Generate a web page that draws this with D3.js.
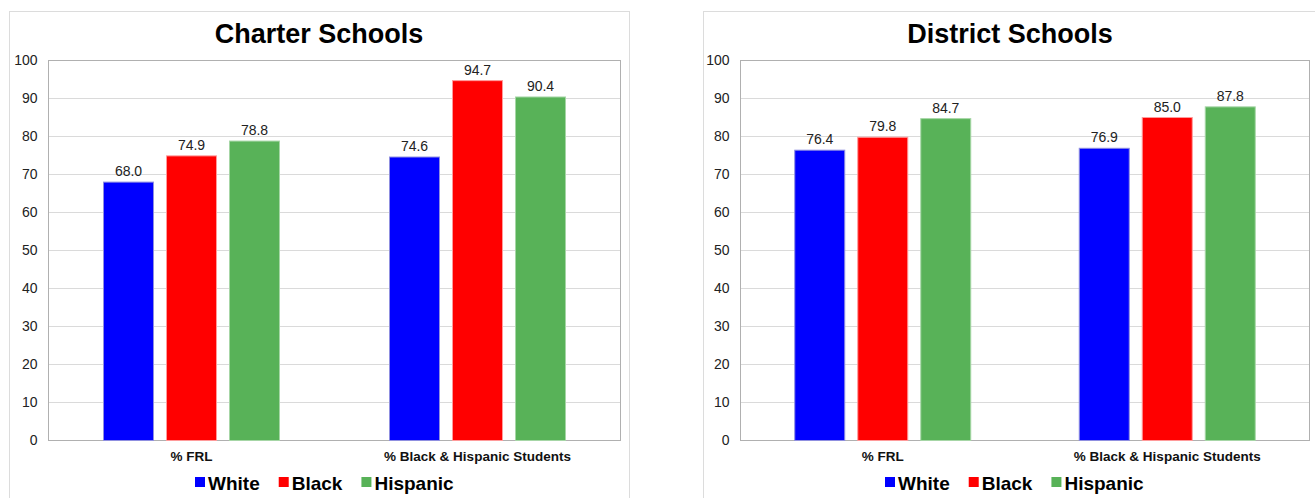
<!DOCTYPE html>
<html>
<head>
<meta charset="utf-8">
<script src="https://cdn.jsdelivr.net/npm/d3@7"></script>
<style>
  html, body { margin: 0; padding: 0; background: #fff; }
  svg { display: block; font-family: "Liberation Sans", Arial, sans-serif; }
</style>
</head>
<body>
<svg id="chart" width="1315" height="498"></svg>
<script>
const categories = ["% FRL", "% Black & Hispanic Students"];
const seriesNames = ["White", "Black", "Hispanic"];
const seriesColors = ["#0000FF", "#FF0000", "#58B258"];
const charterWhite = [68.0, 74.6];
const charterBlack = [74.9, 94.7];
const charterHispanic = [78.8, 90.4];
const districtWhite = [76.4, 76.9];
const districtBlack = [79.8, 85.0];
const districtHispanic = [84.7, 87.8];
const yTicks = [0, 10, 20, 30, 40, 50, 60, 70, 80, 90, 100];
const titles = ["Charter Schools", "District Schools"];

const panels = [
  { title: titles[0], values: [charterWhite, charterBlack, charterHispanic], titleX: 319, legX: 195,
    box: { x: 9.5, y: 11.5, w: 620, h: 500 }, plot: { l: 48.5, r: 620.5, t: 60.5, b: 440.5 } },
  { title: titles[1], values: [districtWhite, districtBlack, districtHispanic], titleX: 1010, legX: 885,
    box: { x: 703.5, y: 11.5, w: 620, h: 500 }, plot: { l: 740.5, r: 1309.5, t: 60.5, b: 440.5 } }
];

const svg = d3.select("#chart");
const strokeColors = ["#8f8fe0", "#ff9a9a", "#a6d6a6"];

panels.forEach(p => {
  const g = svg.append("g");
  g.append("rect").attr("x", p.box.x).attr("y", p.box.y).attr("width", p.box.w).attr("height", p.box.h)
    .attr("fill", "#fff").attr("stroke", "#dcdcdc").attr("stroke-width", 1);

  const y = d3.scaleLinear().domain([0, 100]).range([p.plot.b, p.plot.t]);
  const x0 = d3.scaleBand().domain(categories).range([p.plot.l, p.plot.r]).padding(0);
  const bw = 50, gap = 13, step = bw + gap;
  const pi = gap / step;
  const po = (x0.bandwidth() / step - 3 + pi) / 2;
  const x1 = d3.scaleBand().domain(seriesNames).range([0, x0.bandwidth()]).paddingInner(pi).paddingOuter(po);

  // gridlines
  g.append("g").selectAll("line").data(yTicks).join("line")
    .attr("x1", p.plot.l).attr("x2", p.plot.r)
    .attr("y1", d => y(d)).attr("y2", d => y(d))
    .attr("stroke", "#dadada").attr("stroke-width", 1);

  // plot border
  g.append("rect").attr("x", p.plot.l).attr("y", p.plot.t)
    .attr("width", p.plot.r - p.plot.l).attr("height", p.plot.b - p.plot.t)
    .attr("fill", "none").attr("stroke", "#b0b0b0").attr("stroke-width", 1);

  // y axis
  const yAxis = d3.axisLeft(y).tickValues(yTicks).tickSize(0).tickPadding(11).tickFormat(d3.format("d"));
  const ya = g.append("g").attr("transform", `translate(${p.plot.l},0)`).call(yAxis);
  ya.select(".domain").remove();
  ya.selectAll("text").attr("font-size", 14).attr("fill", "#222")
    .attr("font-family", "Liberation Sans, Arial, sans-serif");

  // bars
  seriesNames.forEach((s, si) => {
    const vals = p.values[si];
    const data = categories.map((c, ci) => ({ c, v: vals[ci] }));
    g.append("g").selectAll("rect").data(data).join("rect")
      .attr("x", d => x0(d.c) + x1(s))
      .attr("y", d => y(d.v))
      .attr("width", x1.bandwidth())
      .attr("height", d => y(0) - y(d.v))
      .attr("fill", seriesColors[si])
      .attr("stroke", strokeColors[si]).attr("stroke-width", 1);
    g.append("g").selectAll("text").data(data).join("text")
      .attr("x", d => x0(d.c) + x1(s) + x1.bandwidth() / 2)
      .attr("y", d => y(d.v) - 6)
      .attr("text-anchor", "middle").attr("font-size", 14).attr("fill", "#222")
      .text(d => d3.format(".1f")(d.v));
  });

  // x axis labels
  const xAxis = d3.axisBottom(x0).tickSize(0).tickPadding(11);
  const xa = g.append("g").attr("transform", `translate(0,${p.plot.b})`).call(xAxis);
  xa.select(".domain").remove();
  xa.selectAll("text").attr("font-size", 13.5).attr("font-weight", "bold").attr("fill", "#111")
    .attr("font-family", "Liberation Sans, Arial, sans-serif");

  // title
  g.append("text").attr("x", p.titleX).attr("y", 43)
    .attr("text-anchor", "middle").attr("font-size", 27).attr("font-weight", "bold").attr("fill", "#000")
    .text(p.title);

  // legend
  let xpos = p.legX;
  const lg = g.append("g");
  seriesNames.forEach((s, si) => {
    const it = lg.append("g").attr("transform", `translate(${xpos},0)`);
    it.append("rect").attr("x", 0).attr("y", 477).attr("width", 10).attr("height", 10).attr("fill", seriesColors[si]);
    const t = it.append("text").attr("x", 13).attr("y", 489.5).attr("font-size", 19).attr("font-weight", "bold")
      .attr("fill", "#000").text(s);
    const w = t.node().getComputedTextLength();
    xpos += 13 + w + 19;
  });
});
</script>
</body>
</html>
